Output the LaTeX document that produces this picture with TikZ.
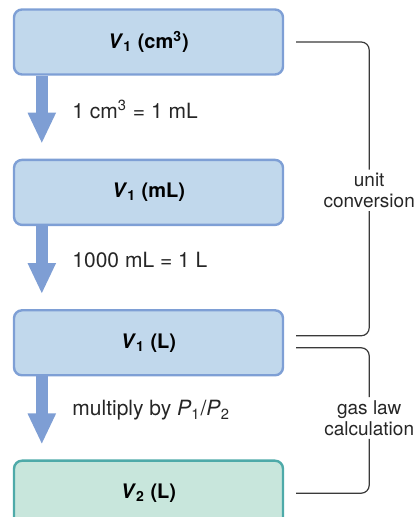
\documentclass[tikz,border=0pt]{standalone}
\usepackage{fontspec}
\setmainfont{TeX Gyre Heros}
\usepackage{xcolor}
\usetikzlibrary{calc, positioning, arrows.meta}
\definecolor{volBlue}{HTML}{C1D8EC}
\definecolor{volBlueEdge}{HTML}{7E9FD5}
\definecolor{volGreen}{HTML}{C8E6DC}
\definecolor{volGreenEdge}{HTML}{4EAAA9}
\definecolor{stepArrow}{HTML}{7E9ED4}
\definecolor{braceGray}{HTML}{3A3A3A}

\tikzset{
  volbox/.style={rectangle, rounded corners=4pt, fill=volBlue, draw=volBlueEdge,
    line width=1.2pt, minimum width=134.5pt, minimum height=32.5pt,
    font=\fontsize{10}{12}\selectfont\bfseries},
  finalbox/.style={volbox, fill=volGreen, draw=volGreenEdge},
  convarrow/.style={draw=stepArrow, line width=6pt,
    -{Triangle[width=13pt, length=15.5pt]}, shorten >=7.5pt},
  steplabel/.style={font=\fontsize{10.5}{12}\selectfont, text=black!85},
  bracket/.style={draw=braceGray, line width=0.6pt, rounded corners=4pt},
  note/.style={align=center, inner sep=1.5pt, text=black!85,
    font=\fontsize{9.5}{10.5}\selectfont}
}

\begin{document}
\begin{tikzpicture}[x=0.5pt, y=0.5pt, node distance=41.5pt]
  \useasboundingbox (0,0) rectangle (413,517);

  % volume boxes
  \node[volbox] (cm) at (148.5,475) {\textit{V}\textsubscript{1} (cm\textsuperscript{3})};
  \node[volbox, below=of cm] (ml) {\textit{V}\textsubscript{1} (mL)};
  \node[volbox, below=of ml] (vl) {\textit{V}\textsubscript{1} (L)};
  \node[finalbox, below=of vl] (vtwo) {\textit{V}\textsubscript{2} (L)};

  % conversion arrows
  \draw[convarrow] ($(cm.south west)+(14.5pt,0)$) -- ($(ml.north west)+(14.5pt,0)$)
    node[steplabel, pos=0.41, right=9pt] {1 cm\textsuperscript{3} = 1 mL};
  \draw[convarrow] ($(ml.south west)+(14.5pt,0)$) -- ($(vl.north west)+(14.5pt,0)$)
    node[steplabel, pos=0.41, right=9pt] {1000 mL = 1 L};
  \draw[convarrow] ($(vl.south west)+(14.5pt,0)$) -- ($(vtwo.north west)+(14.5pt,0)$)
    node[steplabel, pos=0.41, right=9pt] {multiply by \textit{P}\textsubscript{1}/\textit{P}\textsubscript{2}};

  % brackets
  \node[note] (unit) at ($(ml.east)+(42.5pt,1pt)$) {unit\\conversion};
  \node[note] (gas) at ($($(vl.east)!0.5!(vtwo.east)$)+(42.5pt,0)$) {gas law\\calculation};

  \draw[bracket] ($(cm.east)+(6pt,0)$) -| (unit.north);
  \draw[bracket] (unit.south) |- ($(vl.east)+(6pt,3.5pt)$);
  \draw[bracket] ($(vl.east)+(6pt,-2.5pt)$) -| (gas.north);
  \draw[bracket] (gas.south) |- ($(vtwo.east)+(6pt,0)$);
\end{tikzpicture}
\end{document}
